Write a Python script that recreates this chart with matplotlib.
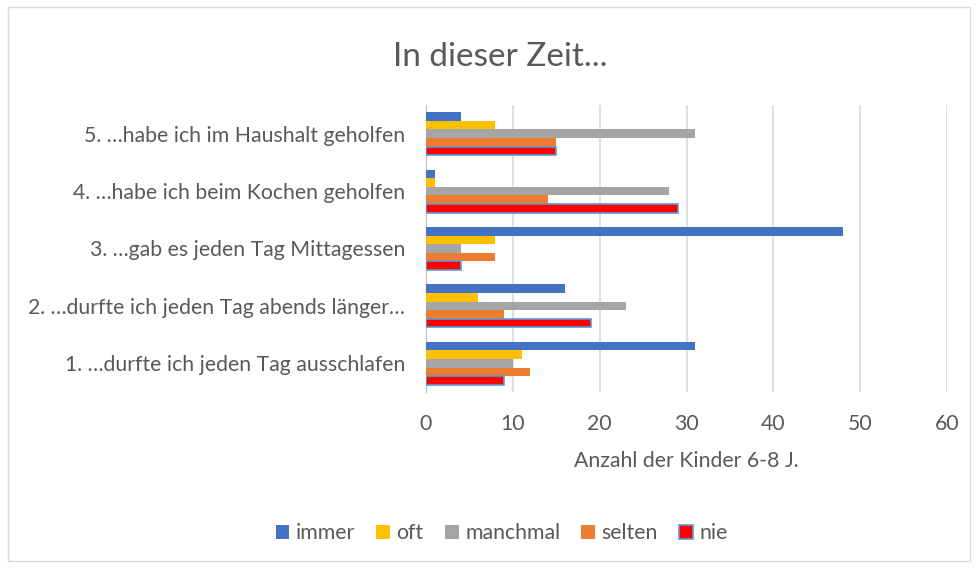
import matplotlib.pyplot as plt
import numpy as np
from matplotlib.patches import Rectangle

plt.rcParams['font.family'] = ['Lato', 'DejaVu Sans']

categories = ['1. …durfte ich jeden Tag ausschlafen',
              '2. …durfte ich jeden Tag abends länger…',
              '3. …gab es jeden Tag Mittagessen',
              '4. …habe ich beim Kochen geholfen',
              '5. …habe ich im Haushalt geholfen']
series = ['immer', 'oft', 'manchmal', 'selten', 'nie']
immer = [31, 16, 48, 1, 4]
oft = [11, 6, 8, 1, 8]
manchmal = [10, 23, 4, 28, 31]
selten = [12, 9, 8, 14, 15]
nie = [9, 19, 4, 29, 15]
colors = ['#4472C4', '#FFC000', '#A5A5A5', '#ED7D31', '#FF0000']

fig = plt.figure(figsize=(9.78, 5.68), dpi=100)
fig.patches.append(Rectangle((0.008, 0.012), 0.984, 0.976, transform=fig.transFigure,
                             fill=False, edgecolor='#D9D9D9', linewidth=1))
ax = fig.add_axes([0.4356, 0.31, 0.5327, 0.505])

y = np.arange(1, len(categories) + 1)
h = 0.15
for i, (name, vals) in enumerate(zip(series, [immer, oft, manchmal, selten, nie])):
    off = (2 - i) * h
    if name == 'nie':
        ax.barh(y + off, vals, height=h, color=colors[i], edgecolor='#5B9BD5',
                linewidth=1.2, label=name, zorder=3)
    else:
        ax.barh(y + off, vals, height=h, color=colors[i], label=name, zorder=3)

ax.set_xlim(0, 60)
ax.set_ylim(0.5, 5.5)
ax.set_xticks(range(0, 61, 10))
ax.set_yticks(y)
ax.set_yticklabels(categories)
ax.xaxis.grid(True, color='#D9D9D9', linewidth=1.2, zorder=0)
for s in ['top', 'right', 'bottom']:
    ax.spines[s].set_visible(False)
ax.spines['left'].set_color('#BFBFBF')
ax.tick_params(length=0, labelsize=15.3, colors='#595959')
ax.tick_params(axis='x', pad=16)
ax.tick_params(axis='y', pad=15)
ax.set_xlabel('Anzahl der Kinder 6-8 J.', fontsize=15.3, color='#595959', labelpad=12)

fig.text(0.512, 0.9, 'In dieser Zeit...', ha='center', va='center', fontsize=24, color='#595959')
fig.legend(loc='center', bbox_to_anchor=(0.513, 0.061), ncol=5, frameon=False,
           fontsize=15.3, handlelength=0.65, handleheight=0.65, handletextpad=0.3,
           columnspacing=1.0, labelcolor='#595959')

fig.savefig('out.png', dpi=100)
